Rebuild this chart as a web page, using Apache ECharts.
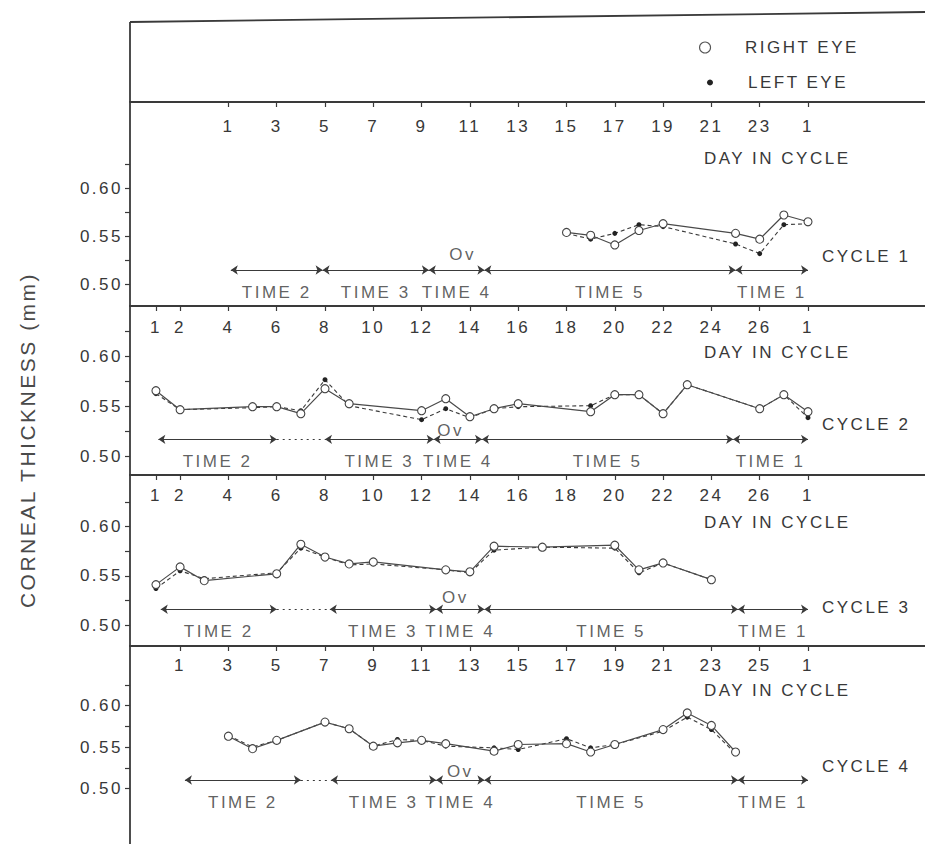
<!DOCTYPE html>
<html>
<head>
<meta charset="utf-8">
<title>Corneal thickness through the menstrual cycle</title>
<script src="https://cdn.jsdelivr.net/npm/echarts@6/dist/echarts.min.js"></script>
<style>
  html, body { margin: 0; padding: 0; background: #fff; }
  #chart { width: 925px; height: 844px; }
  /* the printed lettering is widely tracked */
  #chart text { letter-spacing: 2.5px; }
</style>
</head>
<body>
<div id="chart"></div>
<script>
// ---------------------------------------------------------------
// Data
// ---------------------------------------------------------------
// cycle lengths in days; the last tick of each panel is day 1 of the next cycle
const cycleLengths = [24, 27, 27, 26];

const cycle1TickDays   = [1, 3, 5, 7, 9, 11, 13, 15, 17, 19, 21, 23, 25];
const cycle1TickLabels = ['1', '3', '5', '7', '9', '11', '13', '15', '17', '19', '21', '23', '1'];
const cycle2TickDays   = [1, 2, 4, 6, 8, 10, 12, 14, 16, 18, 20, 22, 24, 26, 28];
const cycle2TickLabels = ['1', '2', '4', '6', '8', '10', '12', '14', '16', '18', '20', '22', '24', '26', '1'];
const cycle3TickDays   = [1, 2, 4, 6, 8, 10, 12, 14, 16, 18, 20, 22, 24, 26, 28];
const cycle3TickLabels = ['1', '2', '4', '6', '8', '10', '12', '14', '16', '18', '20', '22', '24', '26', '1'];
const cycle4TickDays   = [1, 3, 5, 7, 9, 11, 13, 15, 17, 19, 21, 23, 25, 27];
const cycle4TickLabels = ['1', '3', '5', '7', '9', '11', '13', '15', '17', '19', '21', '23', '25', '1'];

// corneal thickness axis (mm)
const thicknessTicks  = [0.50, 0.525, 0.55, 0.575, 0.60, 0.625];
const thicknessLabels = [0.50, 0.55, 0.60];

// measurements, corneal thickness in mm
const cycle1Days  = [15, 16, 17, 18, 19, 22, 23, 24, 25];
const cycle1Right = [0.554, 0.551, 0.541, 0.556, 0.563, 0.553, 0.547, 0.572, 0.565];
const cycle1Left  = [0.553, 0.547, 0.553, 0.562, 0.560, 0.542, 0.532, 0.562, 0.563];

const cycle2Days  = [1, 2, 5, 6, 7, 8, 9, 12, 13, 14, 15, 16, 19, 20, 21, 22, 23, 26, 27, 28];
const cycle2Right = [0.566, 0.547, 0.550, 0.550, 0.543, 0.568, 0.553, 0.546, 0.558, 0.540,
                     0.548, 0.553, 0.545, 0.562, 0.562, 0.543, 0.572, 0.548, 0.562, 0.545];
const cycle2Left  = [0.563, 0.547, 0.549, 0.550, 0.546, 0.577, 0.551, 0.537, 0.548, 0.539,
                     0.548, 0.550, 0.551, 0.562, 0.562, 0.543, 0.572, 0.548, 0.562, 0.539];

const cycle3Days  = [1, 2, 3, 6, 7, 8, 9, 10, 13, 14, 15, 17, 20, 21, 22, 24];
const cycle3Right = [0.541, 0.559, 0.545, 0.552, 0.582, 0.569, 0.562, 0.564,
                     0.556, 0.554, 0.580, 0.579, 0.581, 0.556, 0.563, 0.546];
const cycle3Left  = [0.537, 0.555, 0.547, 0.553, 0.578, 0.569, 0.561, 0.562,
                     0.556, 0.553, 0.576, 0.579, 0.578, 0.553, 0.563, 0.546];

const cycle4Days  = [3, 4, 5, 7, 8, 9, 10, 11, 12, 14, 15, 17, 18, 19, 21, 22, 23, 24];
const cycle4Right = [0.563, 0.548, 0.558, 0.580, 0.572, 0.551, 0.555, 0.558, 0.554,
                     0.545, 0.553, 0.554, 0.544, 0.553, 0.571, 0.591, 0.576, 0.544];
const cycle4Left  = [0.564, 0.550, 0.558, 0.580, 0.572, 0.551, 0.559, 0.558, 0.551,
                     0.549, 0.547, 0.560, 0.549, 0.553, 0.569, 0.586, 0.571, 0.542];

// measurement phases (day in cycle where each phase starts and ends)
const phaseNames = ['TIME 2', 'TIME 3', 'TIME 4', 'TIME 5', 'TIME 1'];
const cycle1PhaseStart = [1.1, 4.9, 9.3, 11.6, 22.0];
const cycle1PhaseEnd   = [4.9, 9.3, 11.6, 22.0, 25.0];
const cycle2PhaseStart = [1.1, 8.0, 12.5, 14.5, 24.9];
const cycle2PhaseEnd   = [6.0, 12.5, 14.5, 24.9, 28.0];
const cycle3PhaseStart = [1.2, 8.2, 12.6, 14.6, 25.1];
const cycle3PhaseEnd   = [6.0, 12.6, 14.6, 25.1, 28.0];
const cycle4PhaseStart = [1.2, 7.25, 11.6, 13.6, 24.1];
const cycle4PhaseEnd   = [6.0, 11.6, 13.6, 24.1, 27.0];

// day of ovulation ("Ov") in each cycle
const ovulationDays = [10.7, 13.2, 13.4, 12.6];

const cycleNames = ['CYCLE 1', 'CYCLE 2', 'CYCLE 3', 'CYCLE 4'];

// ---------------------------------------------------------------
// Layout and style
// ---------------------------------------------------------------
const FONT = 'Liberation Sans';
const INK = '#383838';
const LINE = '#3a3a3a';
const W = 925;
const gridLeft = 130;
const nextCycleX = 808;   // where day 1 of the following cycle sits in every panel
const pxPerDay = 24.15;

// panel frames: top/bottom in px, pixel row of 0.50 mm and px per mm
const panelLayout = [
  { top: 102, bottom: 306, y050: 284.5, pxPerUnit: 965,  labelMargin: 16, phaseLevel: 0.515,  ovLift: 16, dayTitleY: 158, cycleY: 256 },
  { top: 306, bottom: 475, y050: 456.7, pxPerUnit: 1000, labelMargin: 13, phaseLevel: 0.5174, ovLift: 9,  dayTitleY: 352, cycleY: 424 },
  { top: 475, bottom: 646, y050: 625,   pxPerUnit: 985,  labelMargin: 12, phaseLevel: 0.516,  ovLift: 12, dayTitleY: 522, cycleY: 607 },
  { top: 646, bottom: 844, y050: 788.5, pxPerUnit: 830,  labelMargin: 11, phaseLevel: 0.5102, ovLift: 9,  dayTitleY: 690, cycleY: 766 }
];

const cycles = [
  { length: cycleLengths[0], days: cycle1Days, right: cycle1Right, left: cycle1Left,
    tickDays: cycle1TickDays, tickLabels: cycle1TickLabels, phaseStart: cycle1PhaseStart, phaseEnd: cycle1PhaseEnd },
  { length: cycleLengths[1], days: cycle2Days, right: cycle2Right, left: cycle2Left,
    tickDays: cycle2TickDays, tickLabels: cycle2TickLabels, phaseStart: cycle2PhaseStart, phaseEnd: cycle2PhaseEnd },
  { length: cycleLengths[2], days: cycle3Days, right: cycle3Right, left: cycle3Left,
    tickDays: cycle3TickDays, tickLabels: cycle3TickLabels, phaseStart: cycle3PhaseStart, phaseEnd: cycle3PhaseEnd },
  { length: cycleLengths[3], days: cycle4Days, right: cycle4Right, left: cycle4Left,
    tickDays: cycle4TickDays, tickLabels: cycle4TickLabels, phaseStart: cycle4PhaseStart, phaseEnd: cycle4PhaseEnd }
];

const zip = (xs, ys) => xs.map((x, k) => [x, ys[k]]);

const grids = [], xAxes = [], yAxes = [], series = [], graphics = [];

cycles.forEach((c, i) => {
  const lay = panelLayout[i];
  const height = lay.bottom - lay.top;

  grids.push({
    left: gridLeft, top: lay.top, width: W - gridLeft, height: height,
    containLabel: false, outerBoundsMode: 'none'
  });

  const xMin = (c.length + 1) - (nextCycleX - gridLeft) / pxPerDay;
  const xMax = xMin + (W - gridLeft) / pxPerDay;
  xAxes.push({
    gridIndex: i, type: 'value', position: 'top', min: xMin, max: xMax,
    axisLine: { show: true, onZero: false, lineStyle: { color: LINE, width: 1.8 } },
    axisTick: { show: true, inside: true, length: 5, customValues: c.tickDays, lineStyle: { color: LINE, width: 1.2 } },
    axisLabel: {
      show: true, inside: true, margin: lay.labelMargin, customValues: c.tickDays,
      color: INK, fontFamily: FONT, fontSize: 17,
      formatter: v => c.tickLabels[c.tickDays.indexOf(v)]
    },
    splitLine: { show: false }
  });

  const yMin = 0.5 - (lay.bottom - lay.y050) / lay.pxPerUnit;
  const yMax = 0.5 + (lay.y050 - lay.top) / lay.pxPerUnit;
  yAxes.push({
    gridIndex: i, type: 'value', min: yMin, max: yMax,
    axisLine: { show: true, onZero: false, lineStyle: { color: LINE, width: 1.8 } },
    axisTick: { show: true, length: 5, customValues: thicknessTicks, lineStyle: { color: LINE, width: 1.2 } },
    axisLabel: {
      show: true, margin: 7, customValues: thicknessLabels,
      color: INK, fontFamily: FONT, fontSize: 17,
      formatter: v => v.toFixed(2)
    },
    splitLine: { show: false }
  });

  // left eye: filled dots, dashed line
  series.push({
    name: 'LEFT EYE', type: 'line', xAxisIndex: i, yAxisIndex: i,
    data: zip(c.days, c.left),
    symbol: 'circle', symbolSize: 5, showSymbol: true,
    itemStyle: { color: '#222' },
    lineStyle: { color: LINE, width: 1.1, type: [4, 3] },
    z: 3
  });
  // right eye: open circles, solid line
  series.push({
    name: 'RIGHT EYE', type: 'line', xAxisIndex: i, yAxisIndex: i,
    data: zip(c.days, c.right),
    symbol: 'circle', symbolSize: 8, showSymbol: true,
    itemStyle: { color: '#fff', borderColor: '#444', borderWidth: 1.1 },
    lineStyle: { color: '#4a4a4a', width: 1.2 },
    z: 4
  });

  // phase arrows
  const level = lay.phaseLevel;
  series.push({
    type: 'lines', coordinateSystem: 'cartesian2d', xAxisIndex: i, yAxisIndex: i,
    symbol: ['arrow', 'arrow'], symbolSize: 7,
    lineStyle: { color: LINE, width: 1.1, opacity: 1, curveness: 0 },
    data: c.phaseStart.map((s, k) => ({ coords: [[s, level], [c.phaseEnd[k], level]] })),
    silent: true, z: 2
  });
  // dotted link where one phase ends before the next begins
  const gaps = [];
  for (let k = 0; k < c.phaseStart.length - 1; k++) {
    if (c.phaseEnd[k] < c.phaseStart[k + 1] - 0.05) {
      gaps.push({ coords: [[c.phaseEnd[k], level], [c.phaseStart[k + 1], level]] });
    }
  }
  series.push({
    type: 'lines', coordinateSystem: 'cartesian2d', xAxisIndex: i, yAxisIndex: i,
    symbol: ['none', 'none'],
    lineStyle: { color: LINE, width: 1.1, opacity: 1, type: [2, 4], curveness: 0 },
    data: gaps, silent: true, z: 2
  });
  // phase names under the arrows
  series.push({
    type: 'scatter', xAxisIndex: i, yAxisIndex: i, symbolSize: 1,
    itemStyle: { color: 'transparent' }, silent: true,
    data: c.phaseStart.map((s, k) => ({ name: phaseNames[k], value: [(s + c.phaseEnd[k]) / 2, level] })),
    label: {
      show: true, position: 'inside', offset: [0, 22], formatter: '{b}',
      color: INK, fontFamily: FONT, fontSize: 17
    }
  });
  // ovulation marker
  series.push({
    type: 'scatter', xAxisIndex: i, yAxisIndex: i, symbolSize: 1,
    itemStyle: { color: 'transparent' }, silent: true,
    data: [{ name: 'Ov', value: [ovulationDays[i], level] }],
    label: {
      show: true, position: 'inside', offset: [0, -lay.ovLift], formatter: '{b}',
      color: INK, fontFamily: FONT, fontSize: 17
    }
  });

  graphics.push({
    type: 'text', x: 704, y: lay.dayTitleY, silent: true,
    style: { text: 'DAY IN CYCLE', fill: INK, fontFamily: FONT, fontSize: 17, align: 'left', verticalAlign: 'middle' }
  });
  graphics.push({
    type: 'text', x: 822, y: lay.cycleY, silent: true,
    style: { text: cycleNames[i], fill: INK, fontFamily: FONT, fontSize: 17, align: 'left', verticalAlign: 'middle' }
  });
});

// outer frame above the first panel (legend box)
graphics.push({ type: 'line', silent: true, shape: { x1: gridLeft, y1: 22, x2: W, y2: 12 },
  style: { stroke: LINE, lineWidth: 1.8 } });
graphics.push({ type: 'line', silent: true, shape: { x1: gridLeft, y1: 22, x2: gridLeft, y2: panelLayout[0].top },
  style: { stroke: LINE, lineWidth: 1.8 } });

// shared vertical axis title
graphics.push({
  type: 'text', x: 27, y: 440, rotation: Math.PI / 2, silent: true,
  style: { text: 'CORNEAL THICKNESS (mm)', fill: '#4a4a4a', fontFamily: FONT, fontSize: 21, align: 'center', verticalAlign: 'middle' }
});

const option = {
  animation: false,
  backgroundColor: '#fff',
  textStyle: { fontFamily: FONT, color: INK },
  grid: grids,
  xAxis: xAxes,
  yAxis: yAxes,
  legend: [
    {
      data: [{ name: 'RIGHT EYE', icon: 'circle', itemStyle: { color: '#fff', borderColor: '#555', borderWidth: 1.1 } }],
      left: 699, top: 39, padding: 0, itemWidth: 70, itemHeight: 11, selectedMode: false,
      textStyle: { color: INK, fontFamily: FONT, fontSize: 17 }
    },
    {
      data: [{ name: 'LEFT EYE', icon: 'circle', itemStyle: { color: '#222', borderWidth: 0 } }],
      left: 707, top: 74, padding: 0, itemWidth: 66, itemHeight: 6, selectedMode: false,
      textStyle: { color: INK, fontFamily: FONT, fontSize: 17 }
    }
  ],
  graphic: graphics,
  series: series
};

const chart = echarts.init(document.getElementById('chart'), null, { renderer: 'svg' });
chart.setOption(option);
</script>
</body>
</html>
